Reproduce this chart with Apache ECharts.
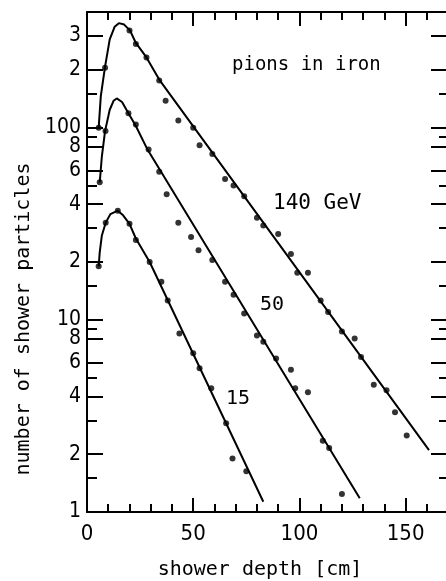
<!DOCTYPE html>
<html><head><meta charset="utf-8">
<script src="https://cdn.jsdelivr.net/npm/echarts@6/dist/echarts.min.js"></script>
<style>html,body{margin:0;padding:0;background:#fff}#c{width:446px;height:581px}</style>
</head><body><div id="c"></div>
<script>
// ---- data (shower depth [cm], number of shower particles) ----
const dots140 = [[5.5,100],[8.5,205],[20,320],[23,273],[28,232],[34,176],[37,138],[43,109],[50,100],[53,81],[59,73],[65,54],[69,50],[74,44],[80,34],[83,31],[90,28],[96,22],[99,17.6],[104,17.6],[110,12.6],[113.5,11],[120,8.7],[126,8.0],[129,6.4],[135,4.6],[141,4.3],[145,3.3],[150.5,2.5]];
const curve140 = [[5.5,100],[6.5,146],[8.5,208],[10.7,288],[13,335],[15,350],[17.5,344],[20.3,320],[23,276],[28,232],[34,178],[161,2.1]];

const dots50 = [[6,52],[8.7,96],[19.5,119],[23,104],[29,77],[34,59],[37.5,45],[43,32],[49,27],[52.5,23],[59,20.5],[65,15.8],[69,13.5],[74,10.8],[80,8.3],[83,7.7],[89,6.3],[96,5.5],[98,4.4],[104,4.2],[111,2.35],[114,2.15],[120,1.24]];
const curve50 = [[6,52],[7,71],[8.5,96],[10.7,124],[12.5,138],[14,142],[16.5,136],[19.5,119],[23,102],[28.2,78],[128.4,1.18]];

const dots15 = [[5.5,19],[8.8,32],[14.5,37],[20,31.6],[23,26],[29.5,20],[35,15.8],[38,12.6],[43.5,8.5],[50,6.7],[53,5.6],[58.5,4.4],[65.5,2.9],[68.5,1.9],[75,1.63]];
const curve15 = [[5.5,19],[6,22.5],[7,27.5],[8.8,32],[11,35.5],[14.5,37],[17,35],[20,31.6],[23,26.5],[29.5,20],[83,1.13]];

const xLabelValues = [0,50,100,150];
const xMajorTicks = [50,100,150];
const xMinorTicks = [10,20,30,40,60,70,80,90,110,120,130,140,160];
const yLabelValues = [1,2,4,6,8,10,20,40,60,80,100,200,300];
const yLabelTexts  = ['1','2','4','6','8','10','2','4','6','8','100','2','3'];
const yMajorTicks = [2,4,6,8,10,20,40,60,80,100,200,300];
const yMinorTicks = [1.5,3,5,9,15,30,50,90,150];

const FONT = '"DejaVu Sans Mono", "Liberation Mono", monospace';
const DIGITS = '"DejaVu Sans Condensed", "Liberation Sans Narrow", "DejaVu Sans Mono", monospace';
const BLACK = '#000';

function xAxisDef(pos, ticks, len, showLine, showLabel) {
  return {
    type: 'value', min: 0, max: 169, position: pos,
    axisLine: { show: showLine, onZero: false, lineStyle: { color: BLACK, width: 2 } },
    axisTick: { show: true, inside: true, length: len, customValues: ticks, lineStyle: { color: BLACK, width: 2 } },
    axisLabel: { show: showLabel, customValues: xLabelValues, color: BLACK, fontFamily: DIGITS, fontSize: 22, margin: 11 },
    splitLine: { show: false }
  };
}
function yAxisDef(pos, ticks, len, showLine, showLabel) {
  return {
    type: 'log', logBase: 10, min: 1, max: 400, position: pos,
    axisLine: { show: showLine, onZero: false, lineStyle: { color: BLACK, width: 2 } },
    axisTick: { show: true, inside: true, length: len, customValues: ticks, lineStyle: { color: BLACK, width: 2 } },
    axisLabel: {
      show: showLabel, customValues: yLabelValues, color: BLACK, fontFamily: DIGITS, fontSize: 21, margin: 6,
      formatter: function (v) {
        let best = 0, bd = Infinity;
        yLabelValues.forEach((t, i) => { const d = Math.abs(Math.log(t) - Math.log(v)); if (d < bd) { bd = d; best = i; } });
        return yLabelTexts[best];
      }
    },
    splitLine: { show: false }, minorSplitLine: { show: false }
  };
}

const chart = echarts.init(document.getElementById('c'), null, { renderer: 'canvas' });
const lineS = (data) => ({ type: 'line', data: data, showSymbol: false, symbol: 'none', lineStyle: { color: BLACK, width: 2 }, xAxisIndex: 0, yAxisIndex: 0, z: 3, silent: true, animation: false });
const dotS = (data) => ({ type: 'scatter', data: data, symbol: 'circle', symbolSize: 6, itemStyle: { color: BLACK }, xAxisIndex: 0, yAxisIndex: 0, z: 4, silent: true, animation: false });

chart.setOption({
  animation: false,
  backgroundColor: '#fff',
  grid: { left: 87, right: -4, top: 12, bottom: 69 },
  xAxis: [
    xAxisDef('bottom', xMajorTicks, 14, true, true),
    xAxisDef('bottom', xMinorTicks, 8, false, false),
    xAxisDef('top', xMajorTicks, 14, true, false),
    xAxisDef('top', xMinorTicks, 8, false, false)
  ],
  yAxis: [
    yAxisDef('left', yMajorTicks, 16, true, true),
    yAxisDef('left', yMinorTicks, 10, false, false),
    yAxisDef('right', yMajorTicks, 15, false, false),
    yAxisDef('right', yMinorTicks, 7, false, false)
  ],
  series: [lineS(curve140), dotS(dots140), lineS(curve50), dotS(dots50), lineS(curve15), dotS(dots15)],
  graphic: [
    { type: 'text', left: 232, top: 56, style: { text: 'pions in iron', font: '19px ' + FONT, fill: BLACK } },
    { type: 'text', left: 273, top: 193, style: { text: '140 GeV', font: '21px ' + FONT, fill: BLACK } },
    { type: 'text', left: 260, top: 295, style: { text: '50', font: '20px ' + FONT, fill: BLACK } },
    { type: 'text', left: 226, top: 389, style: { text: '15', font: '20px ' + FONT, fill: BLACK } },
    { type: 'text', x: 260, y: 570, style: { text: 'shower depth [cm]', font: '20px ' + FONT, fill: BLACK, align: 'center', verticalAlign: 'middle' } },
    { type: 'text', x: 24, y: 319, rotation: Math.PI / 2, style: { text: 'number of shower particles', font: '20px ' + FONT, fill: BLACK, align: 'center', verticalAlign: 'middle' } }
  ]
});
</script>
</body></html>
